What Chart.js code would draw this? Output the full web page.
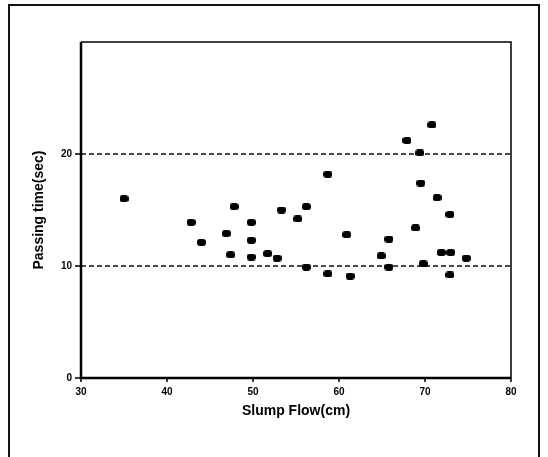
<!DOCTYPE html>
<html>
<head>
<meta charset="utf-8">
<script src="https://cdn.jsdelivr.net/npm/chart.js@4/dist/chart.umd.min.js"></script>
<style>
  html, body { margin: 0; padding: 0; background: #fff; }
  #wrap { position: relative; width: 548px; height: 457px; }
  #frame { position: absolute; left: 8px; top: 4px; width: 528px; height: 460px;
           border-left: 2px solid #111; border-top: 2px solid #111; border-right: 2px solid #111; }
</style>
</head>
<body>
<div id="wrap">
  <div id="frame"></div>
  <canvas id="slumpChart"></canvas>
</div>
<script>
// Slump flow (cm) vs passing time (sec)
const slumpFlow = [35, 42.8, 44.0, 46.9, 47.8, 47.4, 49.8, 49.8, 49.8, 51.7, 52.8, 53.3, 55.2, 56.2, 56.2,
  58.7, 58.7, 61.3, 60.9, 64.9, 65.8, 65.8, 67.9, 68.9, 70.8, 69.4, 69.5, 69.8, 71.4, 71.9, 72.9, 73.0, 72.9, 74.8];
const passingTime = [16.0, 13.9, 12.1, 12.9, 15.3, 11.0, 13.9, 12.3, 10.8, 11.1, 10.7, 15.0, 14.2, 15.3, 9.9,
  18.2, 9.3, 9.1, 12.8, 10.9, 12.4, 9.9, 21.2, 13.4, 22.6, 20.1, 17.4, 10.2, 16.1, 11.2, 14.6, 11.2, 9.2, 10.7];
const refLevels = [10, 20];
const xTicks = [30, 40, 50, 60, 70, 80];
const yTicks = [0, 10, 20];

// small black rounded blob used as the marker
const dot = document.createElement('canvas');
dot.width = 9; dot.height = 7;
(function () {
  const c = dot.getContext('2d');
  c.fillStyle = '#000';
  c.beginPath();
  c.roundRect(0, 0, 9, 7, 3);
  c.fill();
})();

// plot frame + outward tick marks
const boxPlugin = {
  id: 'box',
  afterDraw(chart) {
    const { ctx, chartArea: a, scales } = chart;
    ctx.save();
    ctx.strokeStyle = '#000';
    ctx.lineWidth = 1.5;
    ctx.beginPath();
    ctx.moveTo(a.left, a.top); ctx.lineTo(a.right, a.top); ctx.lineTo(a.right, a.bottom);
    ctx.stroke();
    ctx.lineWidth = 2.5;
    ctx.beginPath();
    ctx.moveTo(a.left, a.top); ctx.lineTo(a.left, a.bottom); ctx.lineTo(a.right, a.bottom);
    ctx.stroke();
    ctx.lineWidth = 1.5;
    ctx.beginPath();
    scales.x.ticks.forEach(t => {
      const px = scales.x.getPixelForValue(t.value);
      ctx.moveTo(px, a.bottom); ctx.lineTo(px, a.bottom + 4);
    });
    scales.y.ticks.forEach(t => {
      const py = scales.y.getPixelForValue(t.value);
      ctx.moveTo(a.left, py); ctx.lineTo(a.left - 6, py);
    });
    ctx.stroke();
    ctx.restore();
  }
};

const refSets = refLevels.map(v => ({
  type: 'line',
  data: [{ x: 30, y: v }, { x: 80, y: v }],
  borderColor: '#111',
  borderWidth: 1.5,
  borderDash: [5, 3],
  pointRadius: 0,
  order: 2
}));

const tickFont = { family: 'Liberation Sans', size: 10, weight: 'bold' };
const titleFont = { family: 'Liberation Sans', size: 14, weight: 'bold' };

new Chart(document.getElementById('slumpChart'), {
  type: 'scatter',
  data: {
    datasets: [{
      data: slumpFlow.map((x, i) => ({ x, y: passingTime[i] })),
      pointStyle: dot,
      pointRadius: 4,
      order: 1
    }, ...refSets]
  },
  options: {
    responsive: true,
    maintainAspectRatio: false,
    animation: false,
    layout: { padding: { top: 42, right: 37, left: 31, bottom: 33 } },
    plugins: { legend: { display: false }, tooltip: { enabled: false } },
    scales: {
      x: {
        min: 30, max: 80,
        afterBuildTicks: s => { s.ticks = xTicks.map(v => ({ value: v })); },
        afterFit: s => { s.height = 46; },
        grid: { display: false, tickLength: 5 },
        border: { display: false },
        ticks: { color: '#000', font: tickFont, padding: 3 },
        title: { display: true, text: 'Slump Flow(cm)', color: '#000', font: titleFont, padding: { top: 2, bottom: 4 } }
      },
      y: {
        min: 0, max: 30,
        afterBuildTicks: s => { s.ticks = yTicks.map(v => ({ value: v })); },
        afterFit: s => { s.width = 50; },
        grid: { display: false },
        border: { display: false },
        ticks: { color: '#000', font: tickFont, padding: 1 },
        title: { display: true, text: 'Passing time(sec)', color: '#000', font: titleFont, padding: { top: 0, bottom: 4 } }
      }
    }
  },
  plugins: [boxPlugin]
});
</script>
</body>
</html>
